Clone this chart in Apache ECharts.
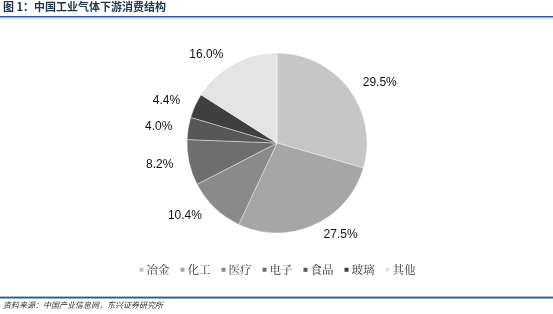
<!DOCTYPE html>
<html><head><meta charset="utf-8">
<script src="https://cdn.jsdelivr.net/npm/echarts@6/dist/echarts.min.js"></script>
<style>html,body{margin:0;padding:0;background:#fff}#c{width:553px;height:314px}</style>
</head><body><div id="c"></div>
<script>
const categories = ['冶金','化工','医疗','电子','食品','玻璃','其他'];
const values = [29.5, 27.5, 10.4, 8.2, 4.0, 4.4, 16.0];
const colors = ['#c6c6c6','#a6a6a6','#8a8a8a','#6e6e6e','#575757','#3f3f3f','#e4e4e4'];
const titleText = '图 1：中国工业气体下游消费结构';
const sourceText = '资料来源：中国产业信息网，东兴证券研究所';

const chart = echarts.init(document.getElementById('c'));
chart.setOption({
  animation:false,
  color: colors,
  title: [
    {text:titleText, left:3, top:1, padding:0, textStyle:{fontSize:11, fontWeight:'bold', color:'#22364f', fontFamily:'Noto Sans CJK SC'}},
    {text:sourceText, left:3, top:301, padding:0, textStyle:{fontSize:8, fontWeight:'normal', fontStyle:'italic', color:'#333', fontFamily:'Noto Sans CJK SC'}}
  ],
  graphic: [
    {type:'rect', shape:{x:0,y:16,width:553,height:1.5}, style:{fill:'#2f5a86'}},
    {type:'rect', shape:{x:0,y:17.5,width:553,height:1}, style:{fill:'#a9bfd6'}},
    {type:'rect', shape:{x:0,y:296,width:553,height:1}, style:{fill:'#a9bfd6'}},
    {type:'rect', shape:{x:0,y:297,width:553,height:1.5}, style:{fill:'#2f5a86'}}
  ],
  legend: {
    data: categories, left:'center', top:264, padding:0,
    icon:'rect', itemWidth:6, itemHeight:6, itemGap:9,
    textStyle:{fontSize:11.5, color:'#333', fontFamily:'Noto Serif CJK SC, Noto Sans CJK SC', padding:[0,0,0,-3]}
  },
  series: [{
    type:'pie', center:[277,143], radius:[0,90], startAngle:90, clockwise:true,
    data: categories.map((n,i)=>({name:n, value:values[i]})),
    itemStyle:{borderColor:'#ffffff', borderWidth:0.4},
    label:{show:true, position:'outside', formatter:p=>p.value.toFixed(1)+'%', fontSize:12, color:'#111', fontFamily:'Liberation Sans'},
    labelLine:{show:false, length:11, length2:0}
  }]
});
</script></body></html>
